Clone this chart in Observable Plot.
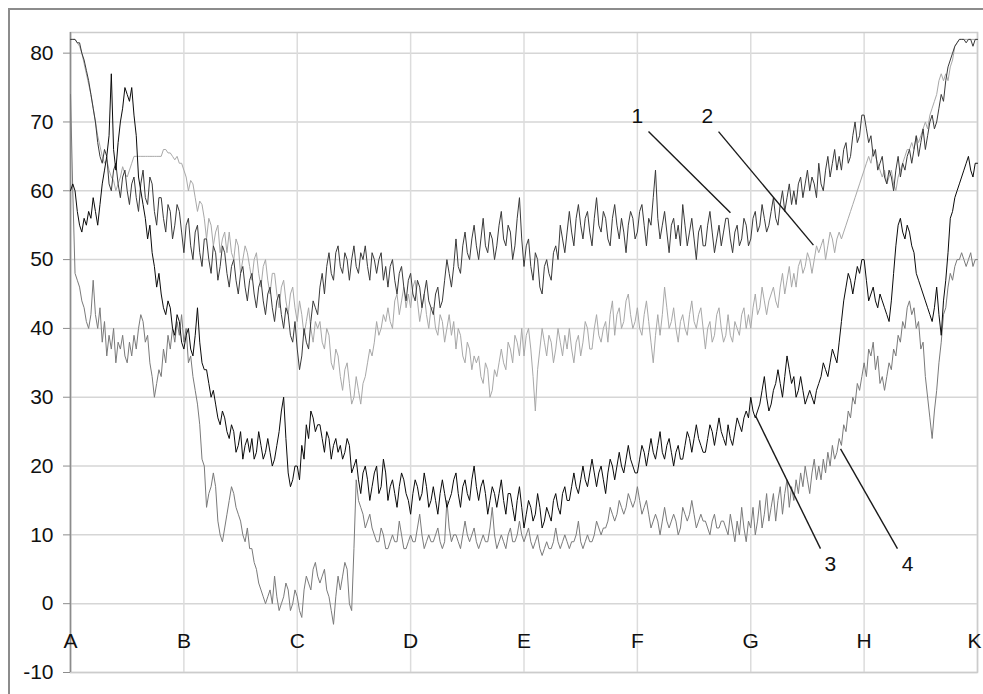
<!DOCTYPE html>
<html><head><meta charset="utf-8">
<script src="https://cdn.jsdelivr.net/npm/d3@7"></script>
<script src="https://cdn.jsdelivr.net/npm/@observablehq/plot@0.6"></script>
<style>
html,body{margin:0;padding:0;background:#fff;overflow:hidden}
#wrap{position:relative;width:983px;height:694px;overflow:hidden}
#border{position:absolute;left:8px;top:8px;width:1200px;height:1200px;border-top:2px solid #8c8c8c;border-left:2px solid #8c8c8c;pointer-events:none}
#chart{position:absolute;left:0;top:0}
</style></head><body><div id="wrap"><div id="border"></div><div id="chart"></div></div>
<script>
const categories = ["A","B","C","D","E","F","G","H","K"];
const yTicks = [-10,0,10,20,30,40,50,60,70,80];
const seriesNames = ["1","2","3","4"];
const seriesColors = ["#3a3a3a","#a8a8a8","#0a0a0a","#7a7a7a"];

const series1 = [
 82,82,82,81.5,81.5,80,79,77.5,76,74, 72,70,67,65,64,66,65,61,60,63,
 64,61,59,62,63,60,58,61,62,59, 57,61,63,59,58,62,61,57,55,59,
 59,56,54,58,57,53,55,58,57,54, 51,55,56,52,50,54,55,51,49,53,
 53,50,48,52,51,47,49,52,51,48, 46,49,50,47,45,48,49,46,44,47,
 48,45,43,46,47,44,42,45,46,43, 41,44,45,42,40,43,42,39,38,41,
 37,34,36,40,38,37,41,44,43,42, 46,48,45,49,51,48,47,51,52,49,
 48,51,50,47,50,52,49,48,51,50, 52,49,47,51,50,48,50,51,47,49,
 46,49,50,47,45,48,49,46,44,47, 48,45,44,47,46,43,45,47,44,43,
 42,45,46,43,44,47,50,48,46,49, 53,49,48,52,54,51,50,53,55,52,
 50,53,56,52,51,54,53,50,52,55, 57,53,52,55,54,50,52,56,59,53,
 49,52,53,49,47,51,50,46,45,49, 50,48,47,51,52,50,55,53,51,54,
 57,54,52,56,58,55,53,56,57,54, 52,56,59,55,54,57,56,53,52,56,
 58,55,53,56,54,51,55,57,56,53, 54,57,58,55,52,56,55,59,63,56,
 53,55,57,54,51,55,56,53,55,52, 58,55,52,54,56,53,50,54,55,52,
 52,55,57,54,51,53,55,52,54,56, 56,53,51,54,55,52,53,56,55,52,
 53,56,57,54,55,58,56,54,55,57, 59,56,55,58,60,57,59,61,58,60,
 58,61,62,59,61,63,60,62,61,59, 64,61,60,63,65,62,64,66,63,65,
 63,66,67,64,65,68,70,67,68,71, 71,69,67,68,65,66,63,64,65,62,
 61,63,62,60,63,65,62,64,63,65, 66,64,66,68,65,67,69,66,68,70,
 71,69,70,72,74,73,76,78,79,80, 81,81.5,82,82,82,81.5,82,82,81,82,
 82];

const series2 = [
 82,82,82,81.5,81,80,78.5,77,75.5,74, 72,70,68,66.5,65,64,64.5,63,62,61.5,
 60,61,62,63.5,62.5,62,63,64,65,65, 65,65,65,65,65,65,65,65,65,65,
 65,66,66,65.5,65.5,65,64.5,65,64,64, 63,62,60,61.5,61,59,57,58.5,58,56,
 53,56,55,52,54,55,51,53,54,51, 54,51,50,53,52,48,50,52,51,49,
 47,50,51,48,46,49,50,47,45,48, 48,45,43,46,47,44,42,45,46,43,
 41,44,42,39,41,43,40,38,41,40, 41,38,37,40,39,35,34,37,36,33,
 31,34,35,32,29,30,33,31,29,32, 33,35,37,36,38,41,39,40,42,41,
 43,41,40,44,45,42,44,46,43,45, 43,46,47,44,41,43,45,42,40,43,
 43,40,39,42,41,38,40,42,39,41, 37,40,39,36,35,38,37,34,36,35,
 36,33,32,35,34,30,31,34,33,35, 37,35,34,38,37,35,39,38,36,40,
 36,39,40,37,33,28,34,37,40,38, 36,39,38,35,37,40,38,36,39,37,
 40,37,35,38,39,36,38,41,40,37, 37,40,42,39,38,40,41,38,42,44,
 39,42,43,40,41,44,45,42,40,41, 43,40,39,42,44,41,38,35,39,42,
 39,42,46,43,40,41,43,40,38,41, 42,40,39,42,44,41,40,42,43,40,
 37,40,41,38,39,42,43,40,38,39, 42,39,38,41,40,39,42,43,40,42,
 40,43,45,42,43,46,44,42,44,45, 46,44,43,46,48,45,47,49,46,48,
 46,49,50,48,49,51,50,48,50,52, 51,52,53,50,52,54,53,51,53,54,
 53,54,55,56,57,58,59,60,61,62, 63,64,65,64,66,65,64,63,62,63,
 61,62,63,61,60,62,63,64,65,66, 66,67,66,68,67,68,69,70,69,71,
 72,73,74,76,77,76,77,76,78,79, 81,81.5,82,82,82,82,82,82,82,82,
 82];

const series3 = [
 60,61,60,57,55,54,56,55,57,56, 59,57,55,58,61,63,65,68,77,66,
 63,67,70,72,75,74,73,75,71,68, 62,60,58,56,53,55,51,49,46,48,
 45,43,42,44,43,40,39,42,41,38, 37,39,40,37,36,39,43,38,35,34,
 34,32,30,31,29,27,26,28,27,25, 24,26,25,22,23,25,21,23,24,22,
 24,21,22,25,23,21,22,24,22,20, 21,23,25,28,30,24,19,17,18,20,
 20,18,23,21,26,24,28,27,25,26, 26,24,22,25,24,21,23,24,22,23,
 21,22,24,23,19,20,21,18,16,19, 20,18,15,17,19,20,16,17,21,19,
 15,17,18,16,14,17,19,18,16,15, 13,16,18,17,15,16,19,17,14,15,
 17,15,13,16,18,16,14,15,16,18, 19,16,14,17,18,16,15,18,20,17,
 15,17,18,16,13,15,17,16,14,16, 18,15,13,16,16,14,12,15,17,14,
 11,13,15,14,12,13,16,14,11,12, 14,13,12,15,16,14,13,16,17,15,
 15,17,19,17,16,18,20,18,17,19, 21,19,17,19,20,18,16,19,21,20,
 18,20,22,20,19,21,23,21,20,19, 19,21,23,22,20,22,24,22,21,23,
 25,22,21,23,24,22,20,22,23,21, 21,23,25,24,22,24,26,24,23,22,
 22,24,26,25,23,25,27,25,24,23, 26,24,23,25,27,26,25,27,28,27,
 30,28,27,28,29,31,33,30,28,29, 31,32,34,32,30,33,36,34,32,33,
 30,31,33,31,29,30,31,30,29,31, 32,33,35,34,33,35,37,36,35,38,
 41,44,46,48,47,45,47,49,48,50, 50,47,44,45,46,44,43,45,44,43,
 42,41,44,48,52,55,56,54,53,55, 54,52,51,48,47,46,45,44,43,42,
 41,43,46,42,39,44,47,51,56,57, 59,60,61,62,63,64,65,63,62,64,
 64];

const series4 = [
 74,60,48,47,46,44,43,41,40,42, 47,42,40,43,38,41,36,39,37,40,
 35,38,37,39,36,35,38,36,39,37, 40,42,41,38,39,35,33,30,32,34,
 33,37,35,39,37,40,38,41,39,42, 38,40,35,36,33,31,29,26,21,20,
 14,16,17,19,17,12,10,9,11,13, 15,17,16,14,13,12,10,9,11,8,
 8,6,5,3,2,1,0,1,2,0, 4,1,-1,0,1,3,2,-1,0,2,
 1,-1,-2,2,4,3,2,5,6,4, 3,4,5,2,1,-1,-3,1,4,2,
 4,6,5,0,-1,8,18,15,14,13, 11,12,13,11,10,9,9,11,10,8,
 8,9,10,9,9,12,10,8,8,9, 10,9,9,11,13,10,8,9,10,9,
 9,10,11,9,8,9,15,11,9,10, 10,9,8,10,12,10,9,10,11,9,
 8,9,10,9,9,11,14,10,8,9, 10,9,8,10,11,9,9,10,12,10,
 9,10,11,9,8,9,10,8,7,8, 9,8,8,9,11,9,8,9,10,9,
 8,9,9,10,12,9,8,9,10,9, 9,10,12,11,10,11,11,12,14,13,
 12,13,15,14,13,14,16,15,14,15, 17,15,13,14,15,13,11,12,13,12,
 10,12,14,12,11,12,13,12,10,11, 14,13,12,13,15,13,11,12,13,12,
 12,11,10,12,13,11,11,12,12,11, 10,13,11,9,12,10,14,11,9,12,
 11,14,10,12,15,11,13,16,12,14, 16,12,15,17,13,16,18,14,17,15,
 18,16,19,17,20,18,16,19,21,18, 20,18,21,19,22,20,23,21,22,24,
 23,26,25,28,27,30,29,32,31,33, 35,33,37,36,38,34,36,32,33,31,
 33,35,34,37,36,39,38,41,40,43, 44,42,43,40,41,37,38,33,30,27,
 24,28,31,35,38,42,43,46,48,47, 49,50,50,51,50,49,50,51,49,50,
 50];

// callout annotations (data coordinates: category index, value)
const calloutText = ["1","2","3","4"];
const calloutTextX = [5.0, 5.618, 6.703, 7.383];
const calloutTextY = [70.9, 70.9, 5.7, 5.7];
const calloutX1 = [5.098, 5.716, 6.615, 7.294];
const calloutY1 = [68.6, 68.6, 8.0, 8.0];
const calloutX2 = [5.821, 6.553, 6.042, 6.792];
const calloutY2 = [56.8, 52.1, 27.3, 22.5];

const allSeries = {"1":series1,"2":series2,"3":series3,"4":series4};
const drawOrder = ["2","4","1","3"];
const rows = [];
for (const s of drawOrder) {
  const arr = allSeries[s];
  arr.forEach((v,i)=>rows.push({s, x: i*(categories.length-1)/(arr.length-1), y: v}));
}
const callouts = calloutText.map((t,i)=>({t, tx:calloutTextX[i], ty:calloutTextY[i], x1:calloutX1[i], y1:calloutY1[i], x2:calloutX2[i], y2:calloutY2[i]}));
const catIdx = d3.range(categories.length);
const lastIdx = categories.length - 1;

const xLabelOpts = {tickFormat: i => categories[i], tickSize: 0, tickPadding: 0, dy: -39, fontSize: 21, label: null};

const chart = Plot.plot({
  width: 983, height: 694,
  marginLeft: 70, marginRight: 6, marginTop: 32, marginBottom: 22,
  style: {fontFamily: "'Liberation Sans', Arial, sans-serif", fontSize: "21px", color: "#111", background: "transparent"},
  x: {domain: [0, lastIdx]},
  y: {domain: [-10, 83]},
  color: {domain: seriesNames, range: seriesColors},
  marks: [
    Plot.gridY(yTicks, {stroke: "#d6d6d6", strokeOpacity: 1, strokeWidth: 1.5}),
    Plot.gridX(catIdx, {stroke: "#dcdcdc", strokeOpacity: 1, strokeWidth: 1.5}),
    Plot.frame({stroke: "#cccccc", strokeWidth: 1.5}),
    Plot.ruleX([0], {stroke: "#8c8c8c", strokeWidth: 1.5}),
    Plot.axisY(yTicks, {tickSize: 7, tickPadding: 10, stroke: "#8c8c8c", fontSize: 21, tickFormat: d => String(d), label: null}),
    Plot.axisX(catIdx.slice(0, lastIdx), xLabelOpts),
    Plot.axisX([lastIdx], {...xLabelOpts, dx: -3}),
    Plot.line(rows, {x: "x", y: "y", z: "s", stroke: "s", strokeWidth: 1, strokeLinejoin: "miter"}),
    Plot.link(callouts, {x1: "x1", y1: "y1", x2: "x2", y2: "y2", stroke: "#1a1a1a", strokeWidth: 1.4}),
    Plot.text(callouts, {x: "tx", y: "ty", text: "t", fontSize: 21, fill: "#111"})
  ]
});
document.getElementById("chart").appendChild(chart);
</script>
</body></html>
